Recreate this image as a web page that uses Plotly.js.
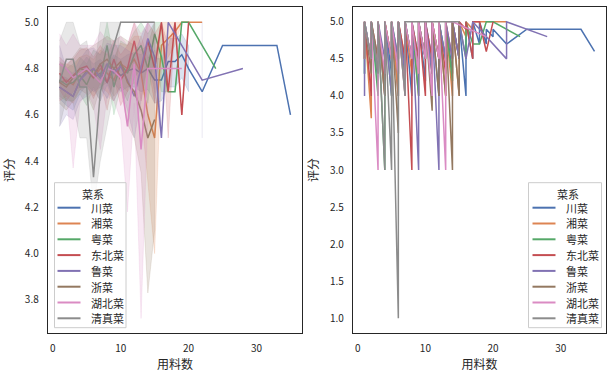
<!DOCTYPE html>
<html><head><meta charset="utf-8">
<script src="https://cdn.plot.ly/plotly-3.0.1.min.js"></script>
<style>html,body{margin:0;padding:0;background:#fff}#chart{width:613px;height:373px}</style>
</head><body><div id="chart"></div>
<script>
const cuisines = ['川菜','湘菜','粤菜','东北菜','鲁菜','浙菜','湖北菜','清真菜'];
const palette = ['#4C72B0','#DD8452','#55A868','#C44E52','#8172B3','#937860','#DA8BC3','#8C8C8C'];
const legendTitle = '菜系';
const yTicksLeft = [3.8,4.0,4.2,4.4,4.6,4.8,5.0];
const yTicksRight = [1.0,1.5,2.0,2.5,3.0,3.5,4.0,4.5,5.0];
const xTicks = [0,10,20,30];

// ---- left panel: mean score per ingredient count, with 95% CI ----
const chuanX  = [1,2,3,4,5,6,7,8,9,10,11,12,13,14,15,16,17,18,19,20,22,25,33,35];
const chuanM  = [4.72,4.70,4.68,4.75,4.79,4.76,4.78,4.74,4.80,4.77,4.79,4.80,4.78,4.80,4.75,4.75,4.83,4.83,4.86,4.80,4.70,4.90,4.90,4.60];
const chuanLo = [4.67,4.64,4.62,4.69,4.73,4.70,4.72,4.67,4.74,4.70,4.72,4.72,4.70,4.71,4.65,4.66,4.72,4.72,4.76,4.70,null,null,null,null];
const chuanHi = [4.77,4.76,4.74,4.81,4.85,4.82,4.84,4.81,4.86,4.84,4.86,4.87,4.86,4.89,4.85,4.84,4.93,4.93,4.95,4.90,null,null,null,null];

const xiangX  = [1,2,3,4,5,6,7,8,9,10,11,12,13,14,15,16,17,18,19,20,22];
const xiangM  = [4.74,4.75,4.73,4.78,4.79,4.76,4.80,4.78,4.75,4.82,4.80,4.84,4.78,4.60,4.50,4.90,4.93,4.96,5.00,5.00,5.00];
const xiangLo = [4.66,4.68,4.65,4.71,4.72,4.68,4.72,4.70,4.66,4.73,4.70,4.74,4.62,4.30,4.00,4.80,4.85,4.90,5.00,5.00,null];
const xiangHi = [4.82,4.82,4.81,4.85,4.86,4.84,4.88,4.86,4.84,4.91,4.90,4.94,4.94,4.85,4.85,5.00,5.00,5.00,5.00,5.00,null];

const yueX  = [1,2,3,4,5,6,7,8,9,10,11,12,13,14,15,16,17,18,19,20,24];
const yueM  = [4.75,4.73,4.74,4.77,4.73,4.80,4.76,4.90,4.72,4.82,4.78,4.86,4.90,4.80,4.95,4.85,4.70,4.70,5.00,5.00,4.80];
const yueLo = [4.68,4.66,4.66,4.69,4.64,4.72,4.66,4.80,4.60,4.72,4.66,4.76,4.80,4.65,4.88,4.70,4.70,4.70,5.00,5.00,null];
const yueHi = [4.82,4.80,4.82,4.85,4.82,4.88,4.86,5.00,4.84,4.92,4.90,4.96,5.00,4.95,5.00,5.00,4.70,4.70,5.00,5.00,null];

const dbX  = [1,2,3,4,5,6,7,8,9,10,11,12,13,14,15,16,17,18,19,20];
const dbM  = [4.78,4.74,4.77,4.80,4.81,4.76,4.82,4.74,4.84,4.75,4.80,4.92,4.78,4.92,4.80,5.00,4.70,5.00,4.60,5.00];
const dbLo = [4.71,4.66,4.70,4.72,4.73,4.67,4.74,4.62,4.76,4.64,4.70,4.84,4.66,4.82,4.65,5.00,4.50,5.00,4.60,5.00];
const dbHi = [4.85,4.82,4.84,4.88,4.89,4.85,4.90,4.86,4.92,4.86,4.90,5.00,4.90,5.00,4.95,5.00,4.90,5.00,4.60,5.00];

const luX  = [1,2,3,4,5,6,7,8,9,10,11,12,13,14,15,16,17,22,28];
const luM  = [4.72,4.70,4.68,4.75,4.78,4.80,4.76,4.82,4.78,4.81,4.75,4.68,4.80,4.93,4.85,4.50,5.00,4.75,4.80];
const luLo = [4.55,4.60,4.58,4.66,4.68,4.71,4.66,4.73,4.66,4.72,4.62,4.50,4.66,4.85,4.70,4.50,null,4.50,null];
const luHi = [4.90,4.80,4.78,4.84,4.88,4.89,4.86,4.91,4.90,4.90,4.88,4.86,4.94,5.00,5.00,4.50,null,5.00,null];

const zheX  = [1,2,3,4,5,6,7,8,9,10,11,12,13,14,15];
const zheM  = [4.74,4.72,4.76,4.80,4.79,4.77,4.82,4.84,4.80,4.83,4.74,4.70,4.62,4.50,4.58];
const zheLo = [4.65,4.62,4.66,4.71,4.69,4.62,4.72,4.74,4.68,4.72,4.56,4.50,4.35,3.83,4.10];
const zheHi = [4.83,4.81,4.85,4.89,4.88,4.90,4.92,4.94,4.92,4.94,4.92,4.90,4.88,4.90,5.00];

const hubX  = [1,2,3,4,5,6,7,8,9,10,11,12,13,14,19];
const hubM  = [4.82,4.80,4.76,4.78,4.80,4.77,4.74,4.80,4.79,4.76,4.55,4.82,4.45,4.80,4.80];
const hubLo = [4.66,4.70,4.37,4.65,4.70,4.64,4.45,4.68,4.66,4.58,4.18,4.65,3.72,4.60,null];
const hubHi = [4.95,4.90,4.95,4.90,4.90,4.90,4.96,4.92,4.92,4.94,4.90,5.00,4.95,5.00,null];

const qzX  = [1,2,3,4,5,6,7,8,9,10,11,12,13,14,15];
const qzM  = [4.74,4.84,4.84,4.72,4.72,4.33,4.70,4.80,4.90,5.00,5.00,5.00,5.00,5.00,5.00];
const qzLo = [4.55,4.67,4.65,4.50,4.50,4.20,4.40,4.55,4.70,5.00,5.00,5.00,5.00,5.00,5.00];
const qzHi = [4.92,5.00,5.00,4.90,4.92,4.75,5.00,5.00,5.00,5.00,5.00,5.00,5.00,5.00,5.00];

// ---- right panel: raw scores, each group = [ingredient count, scores in row order] ----
const chuanRaw = [[1,4.3,5],[2,4.5,5],[3,4.2,5],[4,4.0,5],[5,4.3,5],[6,4.0,5],[7,4.4,5],[8,4.0,5],[9,4.5,5],[10,4.2,5],[11,4.5,5],[12,4.0,5],[13,4.5,5],[14,4.3,5],[15,4.5,5],[16,4.0,5],[17,4.5,5],[18,4.7,5],[19,4.7,4.9],[20,4.8,4.9],[22,4.7],[25,4.9],[33,4.9],[35,4.6]];
const xiangRaw = [[1,4.5,5],[2,3.7,5],[3,4.3,5],[4,4.0,5],[5,4.5,5],[6,4.0,5],[7,4.5,5],[8,4.3,5],[9,4.0,5],[10,4.5,5],[11,4.3,5],[12,4.5,5],[13,4.0,5],[14,4.0,5],[15,4.0,5],[16,4.8,5],[17,4.9,5],[18,5],[19,5],[20,5],[22,5]];
const yueRaw = [[1,4.3,5],[2,4.5,5],[3,4.0,5],[4,3.0,5],[5,4.0,5],[6,4.5,5],[7,4.2,5],[8,4.5,5],[9,4.0,5],[10,4.5,5],[11,4.3,5],[12,4.5,5],[13,4.5,5],[14,4.2,5],[15,4.5,5],[16,4.5,5],[17,4.7],[18,4.7],[19,5],[20,5],[24,4.8]];
const dbRaw = [[1,4.5,5],[2,4.0,5],[3,4.5,5],[4,4.2,5],[5,4.5,5],[6,4.3,5],[7,4.5,5],[8,3.0,5],[9,4.5,5],[10,4.0,5],[11,4.5,5],[12,4.5,5],[13,4.3,5],[14,4.5,5],[15,4.5,5],[16,4.9,5],[17,4.5,5],[18,5],[19,4.6],[20,5]];
const luRaw = [[1,4.3,4.0,5],[2,4.5,5],[3,4.3,5],[4,4.5,5],[5,4.0,5],[6,4.5,5],[7,4.3,5],[8,4.5,5],[9,3.0,5],[10,4.5,5],[11,4.3,5],[12,3.0,5],[13,4.5,5],[14,4.5,5],[15,4.5,5],[16,4.5],[17,5],[22,4.5,5],[28,4.8]];
const zheRaw = [[1,4.5,5],[2,4.3,5],[3,4.5,5],[4,4.0,5],[5,4.5,5],[6,3.5,5],[7,4.0,5],[8,4.5,5],[9,4.3,5],[10,4.5,5],[11,3.8,5],[12,4.0,5],[13,4.0,5],[14,3.0,5],[15,4.0,5]];
const hubRaw = [[1,4.5,5],[2,4.5,5],[3,3.0,5],[4,4.3,5],[5,4.5,5],[6,4.3,5],[7,4.0,5],[8,4.5,5],[9,4.3,5],[10,4.5,5],[11,4.0,5],[12,4.5,5],[13,3.0,5],[14,5],[19,4.8]];
const qzRaw = [[1,4.5,5],[2,4.5,5],[3,4.3,5],[4,3.0,5],[5,3.0,5],[6,1.0,5],[7,4.0,5],[8,5],[9,5],[10,5],[11,5],[12,5],[13,5],[14,5],[15,5]];

const leftSeries = [
  [chuanX,chuanM,chuanLo,chuanHi],[xiangX,xiangM,xiangLo,xiangHi],[yueX,yueM,yueLo,yueHi],[dbX,dbM,dbLo,dbHi],
  [luX,luM,luLo,luHi],[zheX,zheM,zheLo,zheHi],[hubX,hubM,hubLo,hubHi],[qzX,qzM,qzLo,qzHi]];
const rightSeries = [chuanRaw,xiangRaw,yueRaw,dbRaw,luRaw,zheRaw,hubRaw,qzRaw];

function rgba(hex,a){const n=parseInt(hex.slice(1),16);return `rgba(${n>>16&255},${n>>8&255},${n&255},${a})`;}

const W=613,H=373;
const traces = [];
const FONT = 'Noto Sans CJK SC, DejaVu Sans, sans-serif';
leftSeries.forEach((s,i)=>{
  const [xs,ms,lo,hi]=s;
  traces.push({type:'scatter',mode:'lines',x:xs,y:ms,name:cuisines[i],xaxis:'x',yaxis:'y',
    line:{color:palette[i],width:1.5},showlegend:false});
  let run=[];
  const runs=[];
  for(let k=0;k<xs.length;k++){
    if(lo[k]===null){ if(run.length) runs.push(run); run=[]; }
    else run.push(k);
  }
  if(run.length) runs.push(run);
  runs.forEach(r=>{
    const bx=r.map(k=>xs[k]).concat(r.slice().reverse().map(k=>xs[k]));
    const by=r.map(k=>hi[k]).concat(r.slice().reverse().map(k=>lo[k]));
    traces.push({type:'scatter',mode:'lines',x:bx,y:by,fill:'toself',fillcolor:rgba(palette[i],0.2),
      line:{color:rgba(palette[i],0.2),width:0.8},xaxis:'x',yaxis:'y',showlegend:false,hoverinfo:'skip'});
  });
});
rightSeries.forEach((groups,i)=>{
  const rx=[],ry=[];
  groups.forEach(g=>{for(let k=1;k<g.length;k++){rx.push(g[0]);ry.push(g[k]);}});
  traces.push({type:'scatter',mode:'lines',x:rx,y:ry,name:cuisines[i],xaxis:'x2',yaxis:'y2',
    line:{color:palette[i],width:1.5},showlegend:false});
});

// ---- hand-built legends (matplotlib style, compact rows) ----
const shapes=[], annotations=[];
function px2x(p){return p/W;} function px2y(p){return 1-p/H;}
function buildLegend(left,right,top,bottom,lineX0,lineX1,textX){
  shapes.push({type:'rect',xref:'paper',yref:'paper',x0:px2x(left),x1:px2x(right),y0:px2y(bottom),y1:px2y(top),
    line:{color:'#cccccc',width:1},fillcolor:'rgba(255,255,255,0.8)',layer:'above'});
  annotations.push({xref:'paper',yref:'paper',x:px2x((left+right)/2+3),y:px2y(top+11.5),text:legendTitle,showarrow:false,
    xanchor:'center',yanchor:'middle',font:{family:FONT,size:11,color:'#262626'}});
  const rowTop=top+25, step=15.8;
  cuisines.forEach((c,i)=>{
    const yy=rowTop+i*step;
    shapes.push({type:'line',xref:'paper',yref:'paper',x0:px2x(lineX0),x1:px2x(lineX1),y0:px2y(yy),y1:px2y(yy),
      line:{color:palette[i],width:2},layer:'above'});
    annotations.push({xref:'paper',yref:'paper',x:px2x(textX),y:px2y(yy),text:c,showarrow:false,
      xanchor:'left',yanchor:'middle',font:{family:FONT,size:11,color:'#262626'}});
  });
}
buildLegend(54.5,126,182.7,327.7,57.5,80.5,88.5);
buildLegend(528.5,601.5,182.7,327.7,532.5,555.5,563.5);

const axisBase = {showgrid:false,zeroline:false,showline:true,mirror:true,linecolor:'#262626',linewidth:1.25,
  ticks:'',tickfont:{family:FONT,size:10,color:'#262626'},ticklabelstandoff:6};
const yDom=[0.1072,0.9812];
const titleFont={family:FONT,size:12,color:'#262626'};
const layout = {
  width:W,height:H,margin:{l:0,r:0,t:0,b:0},paper_bgcolor:'#fff',plot_bgcolor:'#fff',
  font:{family:FONT,color:'#262626'},showlegend:false,
  xaxis:Object.assign({},axisBase,{domain:[0.0783,0.4927],range:[-0.7,36.7],tickvals:xTicks,anchor:'y',
    title:{text:'用料数',font:titleFont,standoff:0}}),
  yaxis:Object.assign({},axisBase,{domain:yDom,range:[3.657,5.066],tickvals:yTicksLeft,tickformat:'.1f',anchor:'x',
    title:{text:'评分',font:titleFont,standoff:8}}),
  xaxis2:Object.assign({},axisBase,{domain:[0.5759,0.9886],range:[-0.7,36.7],tickvals:xTicks,anchor:'y2',
    title:{text:'用料数',font:titleFont,standoff:0}}),
  yaxis2:Object.assign({},axisBase,{domain:yDom,range:[0.8,5.2],tickvals:yTicksRight,tickformat:'.1f',anchor:'x2',
    title:{text:'评分',font:titleFont,standoff:8}}),
  shapes:shapes,annotations:annotations
};
Plotly.newPlot('chart',traces,layout,{staticPlot:true,displayModeBar:false});
</script></body></html>
